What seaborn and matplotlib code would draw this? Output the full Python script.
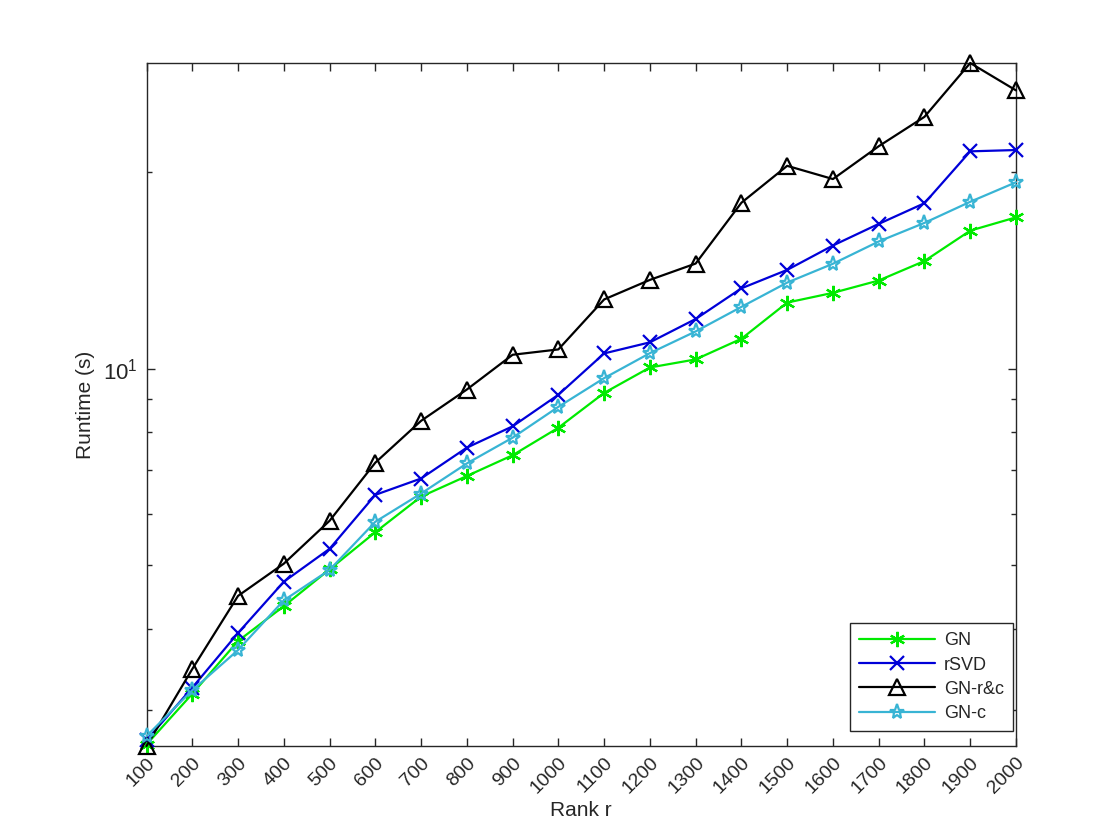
import numpy as np
import pandas as pd
import matplotlib
matplotlib.use("Agg")
import matplotlib.pyplot as plt
import matplotlib.ticker as mticker
import seaborn as sns

ranks = [100, 200, 300, 400, 500, 600, 700, 800, 900, 1000,
         1100, 1200, 1300, 1400, 1500, 1600, 1700, 1800, 1900, 2000]
gn = [2.66, 3.18, 3.83, 4.33, 4.93, 5.62, 6.37, 6.85, 7.37, 8.12,
      9.18, 10.04, 10.33, 11.11, 12.62, 13.06, 13.64, 14.61, 16.26, 17.04]
rsvd = [2.70, 3.25, 3.94, 4.72, 5.30, 6.41, 6.79, 7.57, 8.16, 9.12,
        10.55, 10.97, 11.91, 13.27, 14.16, 15.43, 16.65, 17.91, 21.50, 21.60]
gn_rc = [2.646, 3.47, 4.49, 5.03, 5.85, 7.18, 8.32, 9.29, 10.50, 10.70,
         12.76, 13.67, 14.48, 17.94, 20.43, 19.50, 21.89, 24.28, 29.35, 26.65]
gn_c = [2.74, 3.22, 3.71, 4.42, 4.92, 5.83, 6.44, 7.16, 7.84, 8.74,
        9.67, 10.56, 11.40, 12.43, 13.54, 14.47, 15.65, 16.71, 18.00, 19.28]

series = {"GN": gn, "rSVD": rsvd, "GN-r&c": gn_rc, "GN-c": gn_c}
df = pd.DataFrame([(r, name, v) for name, vals in series.items() for r, v in zip(ranks, vals)],
                  columns=["rank", "method", "runtime"])

sns.set_theme(style="white")
plt.rcParams["font.family"] = ["Liberation Sans", "DejaVu Sans"]
plt.rcParams["mathtext.fontset"] = "custom"
plt.rcParams["mathtext.rm"] = "Liberation Sans"
plt.rcParams["mathtext.it"] = "Liberation Sans:italic"

fig = plt.figure(figsize=(11.2, 8.4), dpi=100)
ax = fig.add_axes([146.5 / 1120, 1 - 746 / 840, (1016 - 146.5) / 1120, (746 - 63) / 840])

styles = {
    "GN": dict(color="#00ea00", marker=(6, 2, 0), mfc="#00ea00", ms=11),
    "rSVD": dict(color="#0000d8", marker="x", mfc="#0000d8", ms=10),
    "GN-r&c": dict(color="#000000", marker="^", mfc="none", ms=11),
    "GN-c": dict(color="#38b4d4", marker="*", mfc="none", ms=11),
}
for name in series:
    st = styles[name]
    sub = df[df["method"] == name]
    sns.lineplot(data=sub, x="rank", y="runtime", ax=ax, color=st["color"],
                 linewidth=1.6, marker=st["marker"], markersize=st["ms"],
                 markerfacecolor=st["mfc"], markeredgecolor=st["color"],
                 markeredgewidth=1.6, label=name, clip_on=False, zorder=3)

ax.set_yscale("log")
allv = df["runtime"].values
ax.set_ylim(allv.min(), allv.max())
ax.set_xlim(ranks[0], ranks[-1])
ax.set_xticks(ranks)
ax.set_xticklabels([str(r) for r in ranks], rotation=45, ha="right", va="top",
                   rotation_mode="anchor", fontsize=14, color="#262626")
ax.yaxis.set_major_locator(mticker.LogLocator(base=10, numticks=10))
ax.yaxis.set_minor_locator(mticker.LogLocator(base=10, subs=np.arange(2, 10), numticks=20))
ax.yaxis.set_major_formatter(mticker.LogFormatterSciNotation())
ax.yaxis.set_minor_formatter(mticker.NullFormatter())

for side in ["top", "right", "bottom", "left"]:
    ax.spines[side].set_visible(True)
    ax.spines[side].set_color("#262626")
    ax.spines[side].set_linewidth(1.0)
ax.tick_params(axis="x", which="major", direction="in", length=6, width=1.0,
               top=True, bottom=True, colors="#262626", labelsize=14, pad=6)
ax.tick_params(axis="y", which="major", direction="in", length=6, width=1.0,
               left=True, right=True, colors="#262626", labelsize=16, pad=6)
ax.tick_params(axis="y", which="minor", direction="in", length=3.5, width=1.0,
               left=True, right=True, colors="#262626")
ax.tick_params(axis="x", which="minor", bottom=False, top=False)

ax.set_xlabel("Rank r", fontsize=15, color="#262626", labelpad=3)
ax.set_ylabel("Runtime (s)", fontsize=15, color="#262626", labelpad=6)

leg = ax.legend(loc="lower right", bbox_to_anchor=(0.9965, 0.022), fontsize=13,
                frameon=True, fancybox=False, edgecolor="#262626", framealpha=1,
                handlelength=4.2, handletextpad=0.5, borderpad=0.5, labelspacing=0.4,
                borderaxespad=0)
leg.get_frame().set_linewidth(1.0)
leg.set_zorder(5)

fig.savefig("out.png", dpi=100, facecolor="white")
